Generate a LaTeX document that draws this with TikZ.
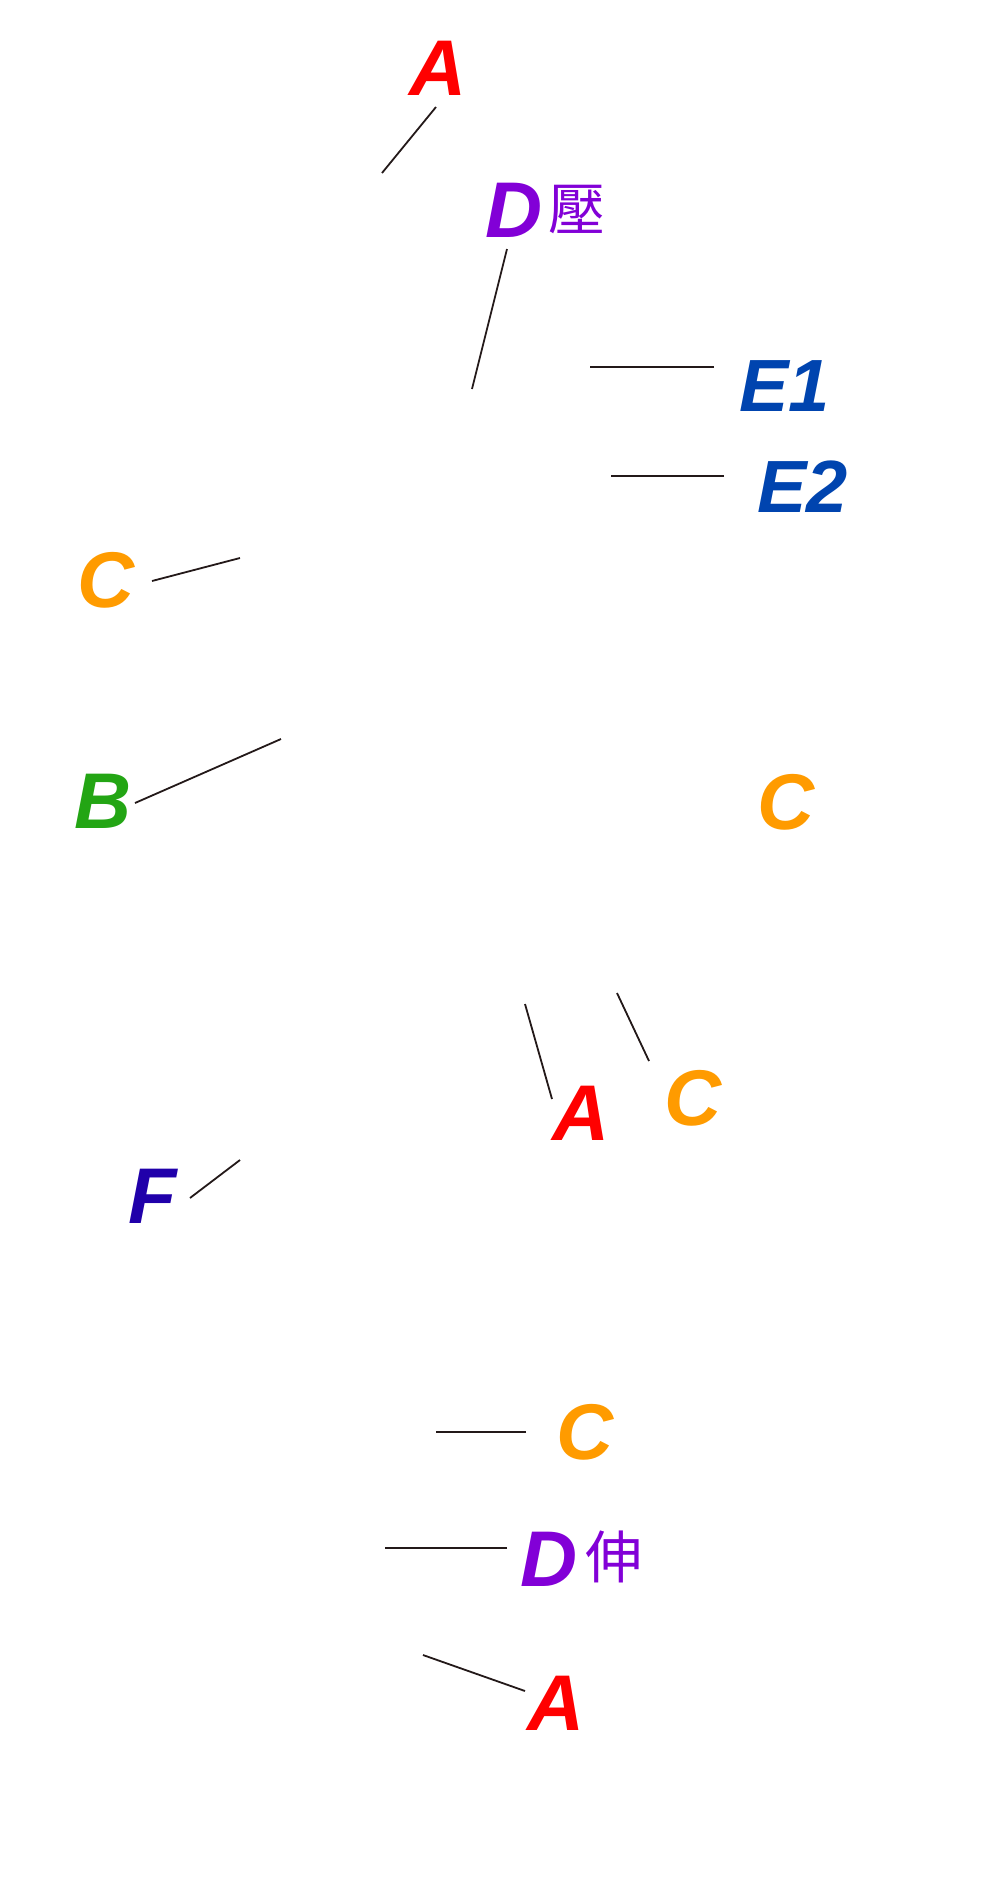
\documentclass[tikz,border=0pt]{standalone}
\usepackage{fontspec}
\setmainfont{Liberation Sans}
\newfontfamily\cjkfont{Noto Sans CJK TC}
\definecolor{cA}{RGB}{255,0,0}
\definecolor{cD}{RGB}{130,0,215}
\definecolor{cE}{RGB}{0,68,175}
\definecolor{cC}{RGB}{255,155,0}
\definecolor{cB}{RGB}{35,165,20}
\definecolor{cF}{RGB}{32,0,170}
\definecolor{cL}{RGB}{35,25,25}
\tikzset{
  lbl/.style={anchor=base west, inner sep=0pt, outer sep=0pt, font=\fontsize{79}{90}\selectfont\bfseries\itshape},
  lble/.style={lbl, font=\fontsize{74}{84}\selectfont\bfseries\itshape},
  cjk/.style={anchor=base west, inner sep=0pt, outer sep=0pt, font=\fontsize{57}{62}\selectfont\cjkfont},
  leader/.style={draw=cL, line width=1.8pt}
}
\begin{document}
\begin{tikzpicture}[x=1pt,y=-1pt]
\useasboundingbox (0,0) rectangle (1000,1877);
% labels
\node[lbl, text=cA] (a1) at (409,95) {A};
\node[lbl, text=cD] (d1) at (485,237) {D};
\node[cjk, text=cD] (d1k) at (548,230) {壓};
\node[lble, text=cE] (e1) at (739,411) {E1};
\node[lble, text=cE] (e2) at (757,512) {E2};
\node[lbl, text=cC] (c1) at (77,607) {C};
\node[lbl, text=cB] (b1) at (74,828) {B};
\node[lbl, text=cC] (c2) at (757,829) {C};
\node[lbl, text=cA] (a2) at (552,1140) {A};
\node[lbl, text=cC] (c3) at (664,1125) {C};
\node[lbl, text=cF] (f1) at (128,1223) {F};
\node[lbl, text=cC] (c4) at (556,1459) {C};
\node[lbl, text=cD] (d2) at (520,1586) {D};
\node[cjk, text=cD] (d2k) at (585,1578) {伸};
\node[lbl, text=cA] (a3) at (527,1730) {A};
% leader ends
\coordinate (a1s) at (436,107);  \coordinate (a1e) at (382,173);
\coordinate (d1s) at (507,249);  \coordinate (d1e) at (472,389);
\coordinate (e1s) at (714,367);  \coordinate (e1e) at (590,367);
\coordinate (e2s) at (724,476);  \coordinate (e2e) at (611,476);
\coordinate (c1s) at (152,581);  \coordinate (c1e) at (240,558);
\coordinate (b1s) at (135,803);  \coordinate (b1e) at (281,739);
\coordinate (a2s) at (552,1099); \coordinate (a2e) at (525,1004);
\coordinate (c3s) at (649,1061); \coordinate (c3e) at (617,993);
\coordinate (f1s) at (190,1198); \coordinate (f1e) at (240,1160);
\coordinate (c4s) at (526,1432); \coordinate (c4e) at (436,1432);
\coordinate (d2s) at (507,1548); \coordinate (d2e) at (385,1548);
\coordinate (a3s) at (525,1691); \coordinate (a3e) at (423,1655);
% leaders
\foreach \n in {a1,d1,e1,e2,c1,b1,a2,c3,f1,c4,d2,a3}
  \draw[leader] (\n s) -- (\n e);
\end{tikzpicture}
\end{document}
